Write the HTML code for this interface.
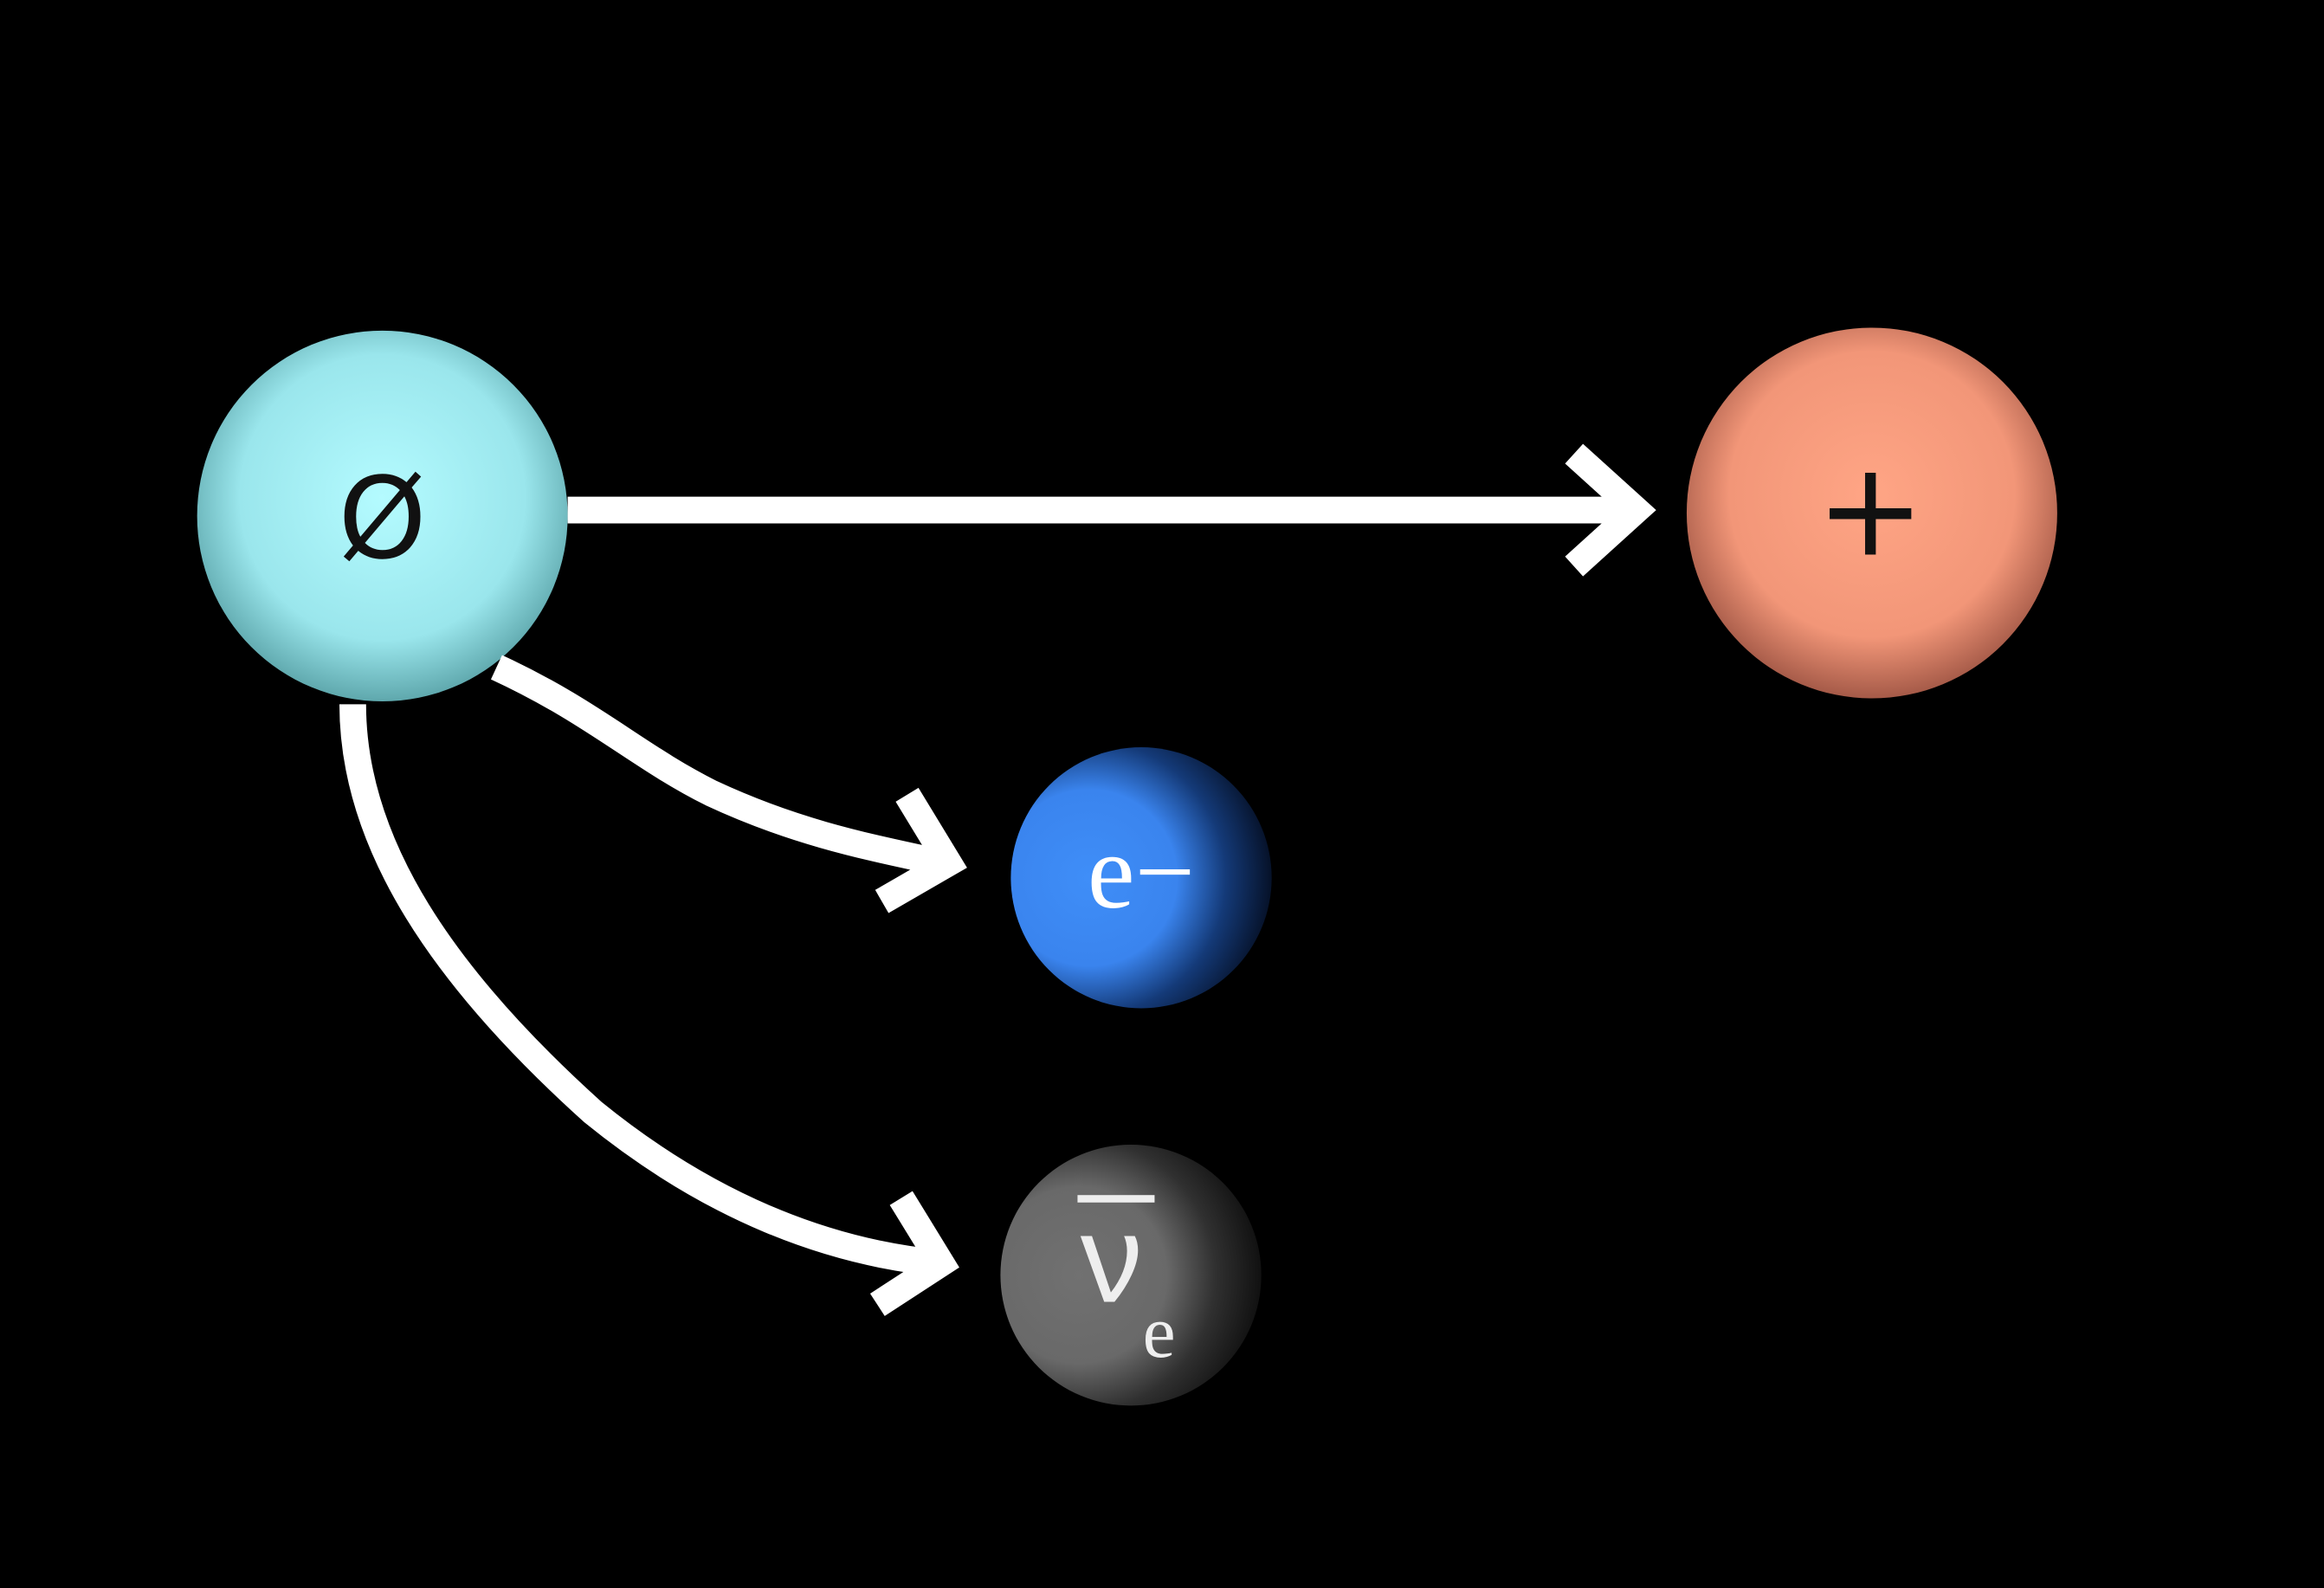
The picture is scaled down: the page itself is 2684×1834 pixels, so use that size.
<!DOCTYPE html>
<html><head><style>html,body{margin:0;padding:0;background:#000;}svg{display:block}</style></head>
<body>
<svg width="2684" height="1834" viewBox="0 0 1568 1071" preserveAspectRatio="none" xmlns="http://www.w3.org/2000/svg">
<defs>
<radialGradient id="cy" cx="0.5" cy="0.45" r="0.55">
<stop offset="0" stop-color="#b4fbff"/><stop offset="0.7" stop-color="#9ae6ec"/><stop offset="1" stop-color="#5fa8ad"/></radialGradient>
<radialGradient id="or" cx="0.5" cy="0.45" r="0.55">
<stop offset="0" stop-color="#ffa585"/><stop offset="0.7" stop-color="#f29678"/><stop offset="1" stop-color="#a55a48"/></radialGradient>
<radialGradient id="bl" cx="0.3" cy="0.5" r="0.75">
<stop offset="0" stop-color="#3f8ef8"/><stop offset="0.45" stop-color="#3a84ee"/><stop offset="0.7" stop-color="#143a78"/><stop offset="1" stop-color="#020612"/></radialGradient>
<radialGradient id="gr" cx="0.3" cy="0.5" r="0.75">
<stop offset="0" stop-color="#717171"/><stop offset="0.45" stop-color="#696969"/><stop offset="0.7" stop-color="#303030"/><stop offset="1" stop-color="#080808"/></radialGradient>
</defs>
<rect width="1568" height="1071" fill="#000"/>
<circle cx="258" cy="348" r="125" fill="url(#cy)"/>
<circle cx="1263" cy="346" r="125" fill="url(#or)"/>
<circle cx="770" cy="592" r="88" fill="url(#bl)"/>
<circle cx="763" cy="860" r="88" fill="url(#gr)"/>
<g stroke="#fff" stroke-width="18" fill="none" stroke-linejoin="miter" stroke-linecap="butt">
<line x1="383" y1="344" x2="1102" y2="344"/>
<polyline points="1062,306 1104,344 1062,382"/>
<path d="M335,450 C400,480 430,510 480,535 C540,563 590,572 640,583"/>
<polyline points="612,536 640,582 595,608"/>
<path d="M238,475 C238,570 300,660 400,750 C480,815 560,845 635,852"/>
<polyline points="608,808 635,852 592,880"/>
</g>
<text x="258" y="376" font-family="DejaVu Sans, sans-serif" font-size="76" text-anchor="middle" fill="#111">Ø</text>
<text x="1262" y="374" font-family="DejaVu Sans, sans-serif" font-size="88" text-anchor="middle" fill="#111">+</text>
<text x="770" y="612" font-family="Liberation Serif, DejaVu Serif, serif" font-size="72" text-anchor="middle" fill="#fff">e−</text>
<rect x="727" y="806" width="52" height="5" fill="#eee"/>
<text x="750" y="878" font-family="Liberation Sans, DejaVu Sans, sans-serif" font-size="84" text-anchor="middle" fill="#eee">ν</text>
<text x="782" y="915" font-family="Liberation Serif, DejaVu Serif, serif" font-size="50" text-anchor="middle" fill="#eee">e</text>
</svg>
</body></html>
